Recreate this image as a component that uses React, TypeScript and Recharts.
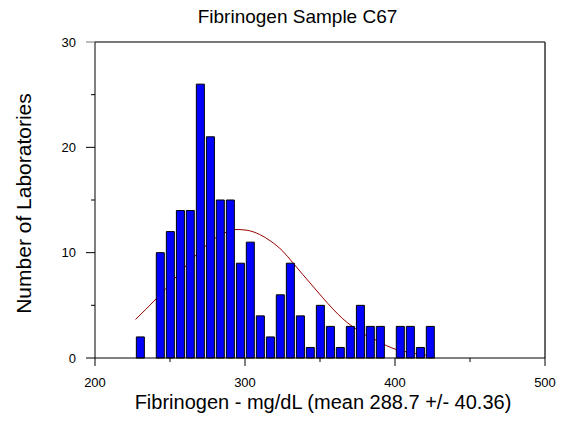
import { Bar, ComposedChart, Line, ReferenceLine, XAxis, YAxis } from 'recharts';

// histogram bins (mg/dL, bin centres) and lab counts
const binCenters = [
  230.2, 236.9, 243.5, 250.2, 256.9, 263.5, 270.2, 276.9, 283.5, 290.2,
  296.9, 303.5, 310.2, 316.9, 323.5, 330.2, 336.9, 343.5, 350.2, 356.9,
  363.5, 370.2, 376.9, 383.5, 390.2, 396.9, 403.5, 410.2, 416.9, 423.5,
];
const labCounts = [
  2, 0, 10, 12, 14, 14, 26, 21, 15, 15,
  9, 11, 4, 2, 6, 9, 4, 1, 5, 3,
  1, 3, 5, 3, 3, 0, 3, 3, 1, 3,
];

// fitted curve
const curveX = [
  227, 240.8, 247.5, 254.1, 260.8, 267.5, 274.1, 280.8, 287.5, 294, 300.8, 309.7, 317.4, 325.2,
  331.9, 338.5, 345.2, 351.9, 358.5, 365.2, 371.9, 380.8, 387.5, 394.1, 400.8, 407.5, 414.1, 426.3,
];
const curveY = [
  3.66, 5.62, 6.63, 7.71, 8.78, 9.8, 10.68, 11.44, 11.95, 12.2, 12.14, 11.73, 11.07, 10.14,
  9.04, 7.93, 6.82, 5.71, 4.67, 3.72, 2.96, 2.14, 1.69, 1.19, 0.81, 0.59, 0.4, 0.21,
];

const xTicks = [200, 250, 300, 350, 400, 450, 500];
const yTicks = [0, 5, 10, 15, 20, 25, 30];

const bars = binCenters.map((x, i) => ({ x, count: labCounts[i] }));
const curve = curveX.map((x, i) => ({ x, fit: curveY[i] }));

const FONT = '"Liberation Sans", Arial, Helvetica, sans-serif';

function XTick({ x, y, payload }: any) {
  const major = payload.value % 100 === 0;
  return (
    <g>
      <line x1={x} y1={y} x2={x} y2={y + (major ? 8 : 4)} stroke="#000" />
      {major && (
        <text x={x} y={y + 29} textAnchor="middle" fontSize={13} fontFamily={FONT} fill="#000">
          {payload.value}
        </text>
      )}
    </g>
  );
}

function YTick({ x, y, payload }: any) {
  const major = payload.value % 10 === 0;
  return (
    <g>
      <line x1={x - (major ? 9 : 4)} y1={y} x2={x} y2={y} stroke={payload.value === 30 ? '#777' : '#000'} />
      {major && (
        <text x={x - 19} y={y} dy="0.36em" textAnchor="end" fontSize={13} fontFamily={FONT} fill="#000">
          {payload.value}
        </text>
      )}
    </g>
  );
}

export default function App() {
  return (
    <div style={{ position: 'absolute', left: 0, top: 0, width: 569, height: 431, background: '#fff' }}>
      <ComposedChart width={569} height={431} data={bars} margin={{ top: 42, right: 24, bottom: 72, left: 94 }}>
        <XAxis
          dataKey="x"
          type="number"
          domain={[200, 500]}
          ticks={xTicks}
          interval={0}
          height={1}
          tickSize={0}
          tickMargin={0}
          tickLine={false}
          axisLine={{ stroke: '#000' }}
          tick={<XTick />}
        />
        <XAxis xAxisId="fit" dataKey="x" type="number" domain={[200, 500]} hide />
        <YAxis
          type="number"
          domain={[0, 30]}
          ticks={yTicks}
          interval={0}
          width={1}
          tickSize={0}
          tickMargin={0}
          tickLine={false}
          axisLine={{ stroke: '#000' }}
          tick={<YTick />}
        />
        <ReferenceLine y={30} stroke="#777" strokeWidth={2} />
        <ReferenceLine x={500} stroke="#333" strokeWidth={1.5} />
        <Line
          xAxisId="fit"
          data={curve}
          dataKey="fit"
          type="monotone"
          stroke="#990000"
          strokeWidth={1}
          dot={false}
          activeDot={false}
          isAnimationActive={false}
          {...({ zIndex: 250 } as any)}
        />
        <Bar dataKey="count" barSize={8} fill="#0000FF" stroke="#000" strokeWidth={1} isAnimationActive={false} />
      </ComposedChart>
      <svg width={569} height={431} style={{ position: 'absolute', left: 0, top: 0, pointerEvents: 'none' }}>
        <text x={297.5} y={23} textAnchor="middle" fontSize={19} fontFamily={FONT} fill="#000">
          Fibrinogen Sample C67
        </text>
        <text x={323} y={408.5} textAnchor="middle" fontSize={20} fontFamily={FONT} fill="#000">
          Fibrinogen - mg/dL (mean 288.7 +/- 40.36)
        </text>
        <text
          x={23}
          y={203.5}
          transform="rotate(-90 23 203.5)"
          textAnchor="middle"
          dy="0.36em"
          fontSize={21}
          fontFamily={FONT}
          fill="#000"
        >
          Number of Laboratories
        </text>
      </svg>
    </div>
  );
}
